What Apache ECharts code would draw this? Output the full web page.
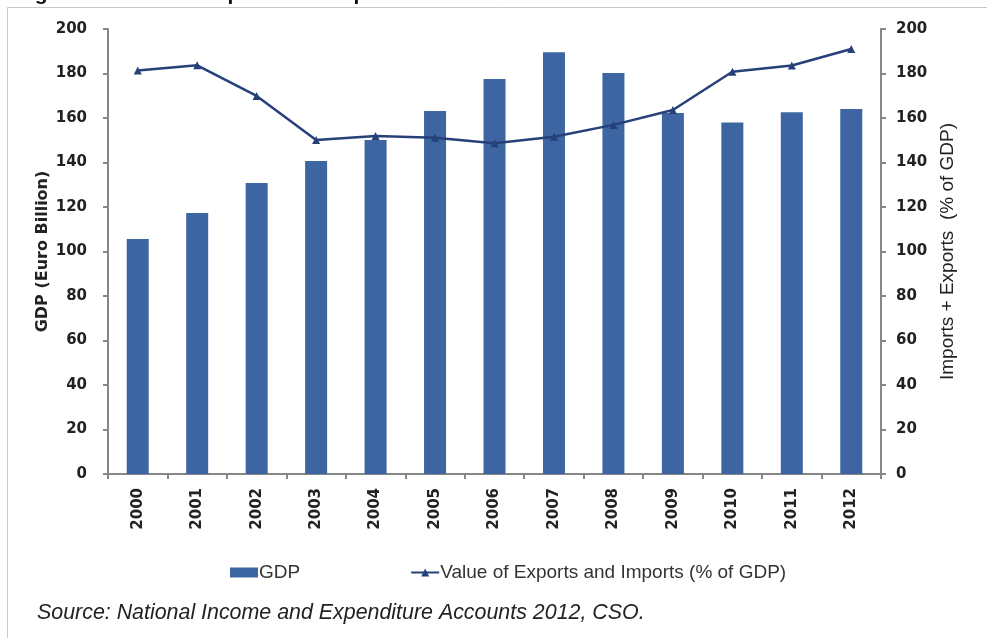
<!DOCTYPE html>
<html>
<head>
<meta charset="utf-8">
<script src="https://cdn.jsdelivr.net/npm/echarts@6/dist/echarts.min.js"></script>
<style>
  html, body { margin: 0; padding: 0; background: #ffffff; }
  #chart { width: 987px; height: 638px; }
</style>
</head>
<body>
<div id="chart"></div>
<script>
// Ireland: GDP and trade openness, 2000-2012
const years = ['2000', '2001', '2002', '2003', '2004', '2005', '2006', '2007', '2008', '2009', '2010', '2011', '2012'];
const gdpEuroBillion = [105.6, 117.3, 130.8, 140.7, 150.1, 163.1, 177.5, 189.6, 180.2, 162.2, 158.0, 162.6, 164.0];
const tradePctOfGdp = [181.3, 183.7, 169.9, 150.1, 151.9, 151.1, 148.6, 151.6, 156.9, 163.6, 180.8, 183.6, 191.0];
const axisTicks = [0, 20, 40, 60, 80, 100, 120, 140, 160, 180, 200];

const titleText = "Figure 1: Ireland's Exports and Imports as a % of GDP";
const sourceText = 'Source: National Income and Expenditure Accounts 2012, CSO.';

const axisGrey = '#868686';
const barBlue = '#3c65a1';
const lineNavy = '#26407a';
const tickFont = { fontFamily: 'DejaVu Sans', fontWeight: 'bold', fontSize: 15, color: '#222' };

const chart = echarts.init(document.getElementById('chart'), null, { renderer: 'canvas' });

const valueAxis = (side, name, nameStyle) => ({
  type: 'value',
  position: side,
  min: axisTicks[0],
  max: axisTicks[axisTicks.length - 1],
  interval: axisTicks[1] - axisTicks[0],
  name: name,
  nameLocation: 'middle',
  nameRotate: 90,
  nameGap: side === 'left' ? 57 : 57,
  nameMoveOverlap: false,
  nameTextStyle: nameStyle,
  axisLine: { show: true, lineStyle: { color: axisGrey, width: 2 } },
  axisTick: { show: true, inside: false, length: 5, lineStyle: { color: axisGrey, width: 2 } },
  axisLabel: Object.assign({ margin: side === 'left' ? 21 : 15 }, tickFont),
  splitLine: { show: false }
});

chart.setOption({
  backgroundColor: '#ffffff',
  animation: false,
  grid: { left: 108, right: 106, top: 29, bottom: 164, containLabel: false },
  legend: {
    left: 225,
    top: 558,
    itemWidth: 28,
    itemHeight: 10,
    itemGap: 110,
    textStyle: { fontFamily: "'Liberation Sans', sans-serif", fontSize: 19, color: '#333', padding: [0, 0, 0, -4] },
    data: [
      { name: 'GDP', icon: 'rect' },
      { name: 'Value of Exports and Imports (% of GDP)' }
    ]
  },
  xAxis: {
    type: 'category',
    data: years,
    axisLine: { lineStyle: { color: axisGrey, width: 2 } },
    axisTick: { show: true, alignWithLabel: false, length: 5, lineStyle: { color: axisGrey, width: 2 } },
    axisLabel: Object.assign({ rotate: 90, margin: 14, interval: 0 }, tickFont)
  },
  yAxis: [
    valueAxis('left', 'GDP (Euro Billion)', { fontFamily: 'DejaVu Sans', fontWeight: 'bold', fontSize: 16, color: '#222' }),
    valueAxis('right', 'Imports + Exports  (% of GDP)', { fontFamily: "'Liberation Sans', sans-serif", fontWeight: 'normal', fontSize: 19, color: '#222' })
  ],
  series: [
    {
      name: 'GDP',
      type: 'bar',
      yAxisIndex: 0,
      data: gdpEuroBillion,
      barWidth: 22,
      itemStyle: { color: barBlue }
    },
    {
      name: 'Value of Exports and Imports (% of GDP)',
      type: 'line',
      yAxisIndex: 1,
      data: tradePctOfGdp,
      symbol: 'triangle',
      symbolSize: 8,
      lineStyle: { color: lineNavy, width: 2.5 },
      itemStyle: { color: lineNavy }
    }
  ],
  graphic: [
    {
      type: 'text',
      left: 16,
      top: -16,
      style: { text: titleText, font: 'bold 21px "Liberation Sans"', fill: '#111' },
      z: 1
    },
    {
      type: 'rect',
      shape: { x: 7.5, y: 7.5, width: 1000, height: 700 },
      style: { fill: null, stroke: '#c8c8c8', lineWidth: 1 },
      silent: true,
      z: 2
    },
    {
      type: 'text',
      left: 37,
      top: 603,
      style: { text: sourceText, font: 'italic 21.4px "Liberation Sans"', fill: '#222' },
      z: 2
    }
  ]
});
</script>
</body>
</html>
